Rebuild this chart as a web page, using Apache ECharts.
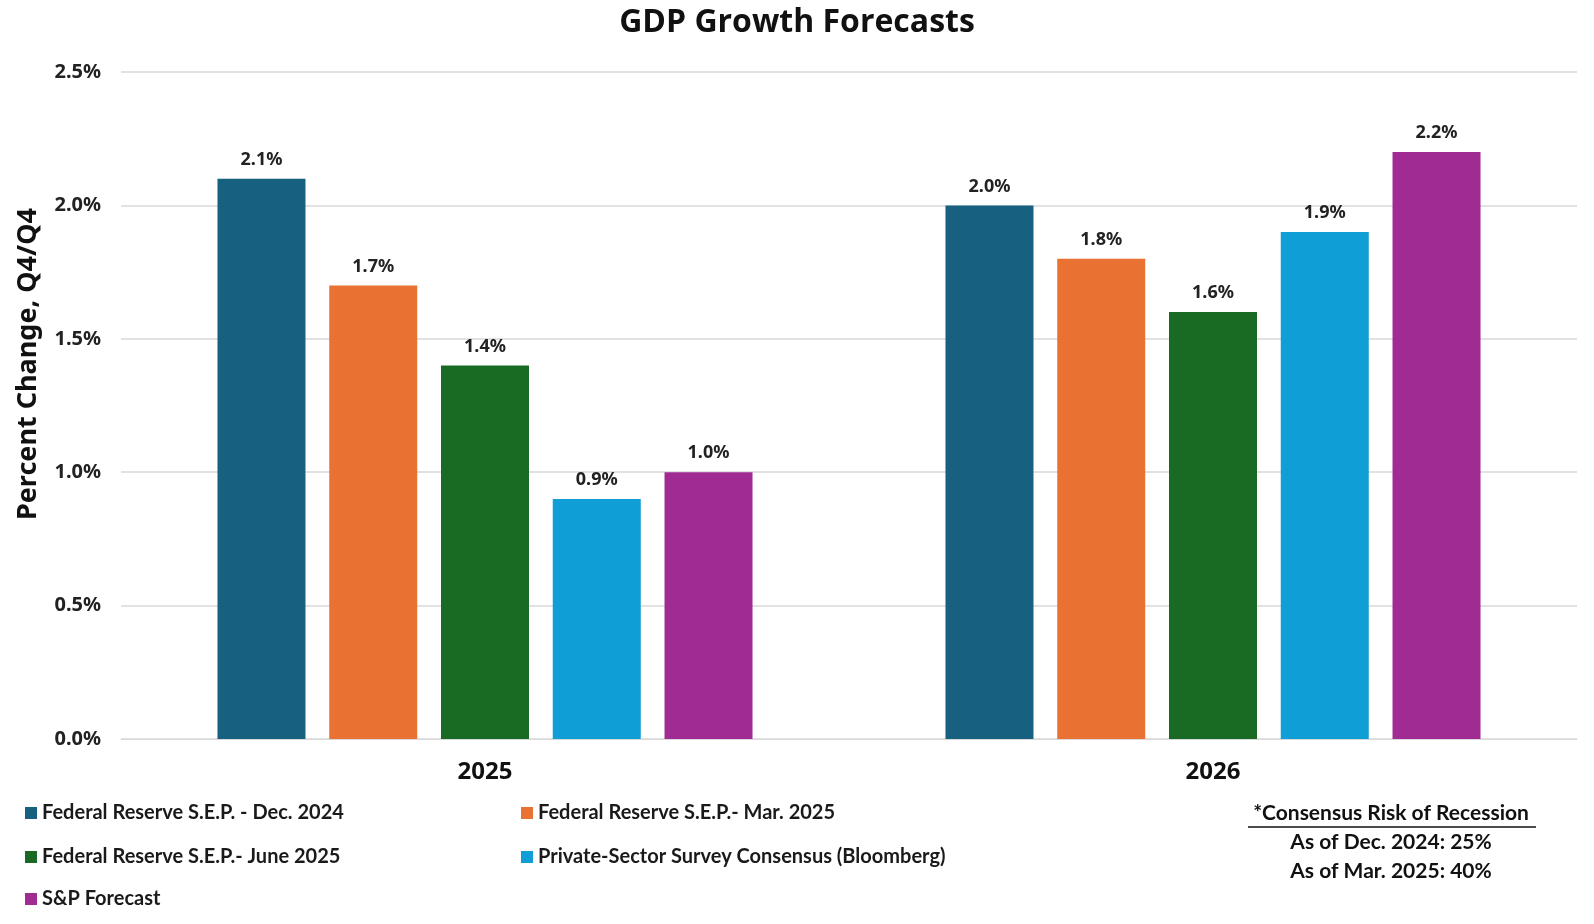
<!DOCTYPE html>
<html>
<head>
<meta charset="utf-8">
<script src="https://cdn.jsdelivr.net/npm/echarts@6/dist/echarts.min.js"></script>
<style>html,body{margin:0;padding:0;background:#fff;}#c{width:1594px;height:924px;}</style>
</head>
<body>
<div id="c"></div>
<script>
const categories = ['2025', '2026'];
const seriesNames = [
  'Federal Reserve S.E.P. - Dec. 2024',
  'Federal Reserve S.E.P.- Mar. 2025',
  'Federal Reserve S.E.P.- June 2025',
  'Private-Sector Survey Consensus (Bloomberg)',
  'S&P Forecast'
];
const fedDec2024 = [2.1, 2.0];
const fedMar2025 = [1.7, 1.8];
const fedJun2025 = [1.4, 1.6];
const privateConsensus = [0.9, 1.9];
const spForecast = [1.0, 2.2];
const yTicks = [0, 0.5, 1.0, 1.5, 2.0, 2.5];
const yAxisTitle = 'Percent Change, Q4/Q4';
const noteLines = ['*Consensus Risk of Recession', 'As of Dec. 2024: 25%', 'As of Mar. 2025: 40%'];

const colors = ['#17607f', '#e97132', '#196b24', '#0f9ed5', '#a02b93'];
const values = [fedDec2024, fedMar2025, fedJun2025, privateConsensus, spForecast];
const legendFont = {fontFamily: 'Lato', fontWeight: 'bold', fontSize: 20, color: '#1a1a1a'};
const legendPos = [[25, 803], [521, 803], [25, 847], [521, 847], [25, 889]];
const noteFont = {fontFamily: 'Lato', fontWeight: 'bold', fontSize: 21, fill: '#111'};

const chart = echarts.init(document.getElementById('c'), null, {renderer: 'canvas'});
chart.setOption({
  animation: false,
  title: {
    text: 'GDP Growth Forecasts', left: 'center', top: 2,
    textStyle: {fontFamily: 'Open Sans', fontWeight: 'bold', fontSize: 32, color: '#111'}
  },
  grid: {left: 121, right: 17, top: 72, bottom: 185, containLabel: false},
  legend: seriesNames.map((n, i) => ({
    data: [n], left: legendPos[i][0], top: legendPos[i][1],
    itemWidth: 12, itemHeight: 12, icon: 'rect', itemGap: 6,
    textStyle: legendFont, padding: 0
  })),
  xAxis: {
    type: 'category', data: categories,
    axisLine: {lineStyle: {color: '#d9d9d9', width: 1}},
    axisTick: {show: false},
    axisLabel: {fontFamily: 'Noto Sans', fontWeight: 'bold', fontSize: 24, color: '#111', margin: 21}
  },
  yAxis: {
    type: 'value', min: yTicks[0], max: yTicks[yTicks.length - 1], interval: 0.5,
    axisLine: {show: false}, axisTick: {show: false},
    splitLine: {lineStyle: {color: '#d9d9d9', width: 1.5}},
    axisLabel: {
      fontFamily: 'Noto Sans', fontWeight: 'bold', fontSize: 20, color: '#222', margin: 20,
      formatter: v => v.toFixed(1) + '%'
    }
  },
  series: seriesNames.map((n, i) => ({
    name: n, type: 'bar', data: values[i], barWidth: 88, barGap: '27%',
    itemStyle: {color: colors[i]},
    label: {
      show: true, position: 'top', distance: 10,
      fontFamily: 'Noto Sans', fontWeight: 'bold', fontSize: 18, color: '#222',
      formatter: p => p.value.toFixed(1) + '%'
    }
  })),
  graphic: [
    {type: 'text', x: 28, y: 364, rotation: Math.PI / 2,
      style: {text: yAxisTitle, textAlign: 'center', textVerticalAlign: 'middle', fontFamily: 'Noto Sans', fontWeight: 'bold', fontSize: 27, fill: '#111'}},
    {type: 'text', x: 1391, y: 803, style: Object.assign({text: noteLines[0], textAlign: 'center'}, noteFont)},
    {type: 'line', shape: {x1: 1248, y1: 827, x2: 1536, y2: 827}, style: {stroke: '#111', lineWidth: 1.5}},
    {type: 'text', x: 1391, y: 832, style: Object.assign({text: noteLines[1], textAlign: 'center'}, noteFont)},
    {type: 'text', x: 1391, y: 861, style: Object.assign({text: noteLines[2], textAlign: 'center'}, noteFont)}
  ]
});
</script>
</body>
</html>
